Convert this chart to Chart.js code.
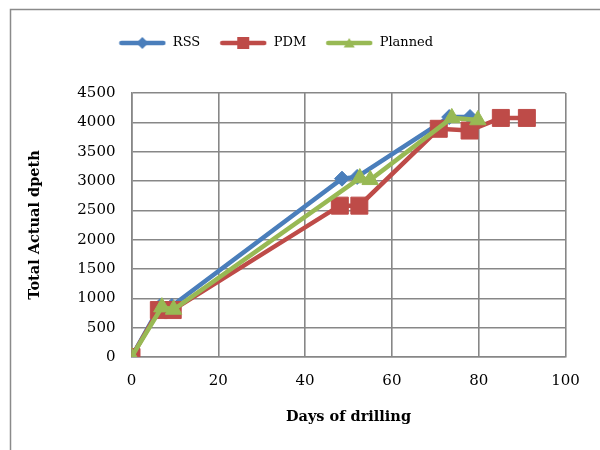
<!DOCTYPE html>
<html>
<head>
<meta charset="utf-8">
<script src="https://cdn.jsdelivr.net/npm/chart.js@4.4.1/dist/chart.umd.min.js"></script>
<style>
  html, body { margin: 0; padding: 0; background: #ffffff; }
  canvas { display: block; }
</style>
</head>
<body>
<canvas id="chart" width="600" height="450"></canvas>
<script>
// Drilling progress: cumulative depth against days of drilling
const seriesNames = ['RSS', 'PDM', 'Planned'];

const rssDays = [0, 6.6, 9.3, 48.5, 52, 73.2, 78];
const rssDepth = [0, 870, 870, 3040, 3070, 4090, 4090];

const pdmDays = [0, 6.3, 9.5, 48, 52.5, 70.8, 77.9, 85.1, 91.1];
const pdmDepth = [0, 800, 800, 2580, 2580, 3890, 3860, 4075, 4075];

const plannedDays = [0, 7, 9.7, 52.6, 55, 73.8, 79.8];
const plannedDepth = [0, 850, 810, 3050, 3020, 4075, 4040];

const xTicks = [0, 20, 40, 60, 80, 100];
const yTicks = [0, 500, 1000, 1500, 2000, 2500, 3000, 3500, 4000, 4500];

const xTitle = 'Days of drilling';
const yTitle = 'Total Actual dpeth';

const colors = ['#4a7ebb', '#be4b48', '#98b954'];
const markers = ['rectRot', 'rect', 'triangle'];
const markerRadius = [7.5, 12, 9.5];

const toPoints = (xs, ys) => xs.map((x, i) => ({ x: x, y: ys[i] }));
const seriesPoints = [
  toPoints(rssDays, rssDepth),
  toPoints(pdmDays, pdmDepth),
  toPoints(plannedDays, plannedDepth)
];

// legend key: a short thick line with the series marker in the middle
function legendIcon(color, style) {
  const c = document.createElement('canvas');
  c.width = 48; c.height = 16;
  const g = c.getContext('2d');
  g.strokeStyle = color; g.fillStyle = color;
  g.lineWidth = 4.5; g.lineCap = 'round';
  g.beginPath(); g.moveTo(3, 8); g.lineTo(45, 8); g.stroke();
  g.beginPath();
  if (style === 'rectRot') {
    g.moveTo(24, 2); g.lineTo(30, 8); g.lineTo(24, 14); g.lineTo(18, 8);
  } else if (style === 'rect') {
    g.rect(18, 2, 12, 12);
  } else {
    g.moveTo(24, 3); g.lineTo(29.5, 12.5); g.lineTo(18.5, 12.5);
  }
  g.closePath(); g.fill();
  return c;
}
const icons = colors.map((c, i) => legendIcon(c, markers[i]));

const frameAndLegend = {
  id: 'frameAndLegend',
  beforeLayout(chart) {
    const lg = chart.legend;
    if (lg && !lg._extraSpace) {
      const fit = lg.fit;
      lg.fit = function () { fit.call(this); this.height += 33.5; };
      lg._extraSpace = true;
    }
  },
  afterLayout(chart) {
    const lg = chart.legend;
    if (lg) { lg.left -= 16; lg.right -= 16; }
  },
  beforeDraw(chart) {
    const ctx = chart.ctx;
    ctx.save();
    ctx.fillStyle = '#ffffff';
    ctx.fillRect(0, 0, chart.width, chart.height);
    ctx.strokeStyle = '#8a8a8a';
    ctx.lineWidth = 1.5;
    ctx.strokeRect(10.5, 9.5, chart.width + 20, chart.height + 20);
    ctx.restore();
  }
};

const tickFont = { family: '"DejaVu Serif", serif', size: 15 };
const titleFont = { family: '"DejaVu Serif", serif', size: 14.5, weight: 'bold' };
const gridColor = '#878787';
const plainNumber = (v) => String(v);

new Chart(document.getElementById('chart'), {
  type: 'scatter',
  data: {
    datasets: seriesNames.map((name, i) => ({
      label: name,
      data: seriesPoints[i],
      showLine: true,
      borderColor: colors[i],
      backgroundColor: colors[i],
      borderWidth: 4.5,
      pointStyle: markers[i],
      pointRadius: markerRadius[i],
      pointHoverRadius: markerRadius[i],
      pointBorderWidth: 1,
      order: seriesNames.length - 1 - i
    }))
  },
  options: {
    responsive: false,
    animation: false,
    devicePixelRatio: 1,
    layout: { padding: { left: 18, right: 34.5, top: 17.5, bottom: 23 } },
    plugins: {
      tooltip: { enabled: false },
      legend: {
        position: 'top',
        align: 'center',
        labels: {
          usePointStyle: true,
          pointStyleWidth: 48,
          padding: 19,
          color: '#000000',
          font: { family: '"DejaVu Serif", serif', size: 13 },
          generateLabels(chart) {
            return chart.data.datasets.map((ds, i) => ({
              text: ds.label,
              datasetIndex: i,
              pointStyle: icons[i],
              fillStyle: colors[i],
              strokeStyle: colors[i],
              lineWidth: 0,
              fontColor: '#000000',
              hidden: !chart.isDatasetVisible(i)
            }));
          }
        }
      }
    },
    scales: {
      x: {
        type: 'linear',
        min: xTicks[0],
        max: xTicks[xTicks.length - 1],
        ticks: { stepSize: xTicks[1] - xTicks[0], callback: plainNumber, color: '#000000', font: tickFont, padding: 15 },
        grid: { color: gridColor, lineWidth: 1.6, drawTicks: false },
        border: { color: gridColor, width: 1.6 },
        title: { display: true, text: xTitle, color: '#000000', font: titleFont, padding: { top: 0, bottom: 1 } },
        afterFit(scale) { scale.height = 70; }
      },
      y: {
        type: 'linear',
        min: yTicks[0],
        max: yTicks[yTicks.length - 1],
        ticks: { stepSize: yTicks[1] - yTicks[0], callback: plainNumber, color: '#000000', font: tickFont, padding: 16 },
        grid: { color: gridColor, lineWidth: 1.6, drawTicks: false },
        border: { color: gridColor, width: 1.6 },
        title: { display: true, text: yTitle, color: '#000000', font: titleFont, padding: { top: 9, bottom: 0 } },
        afterFit(scale) { scale.width = 113.5; }
      }
    }
  },
  plugins: [frameAndLegend]
});
</script>
</body>
</html>
